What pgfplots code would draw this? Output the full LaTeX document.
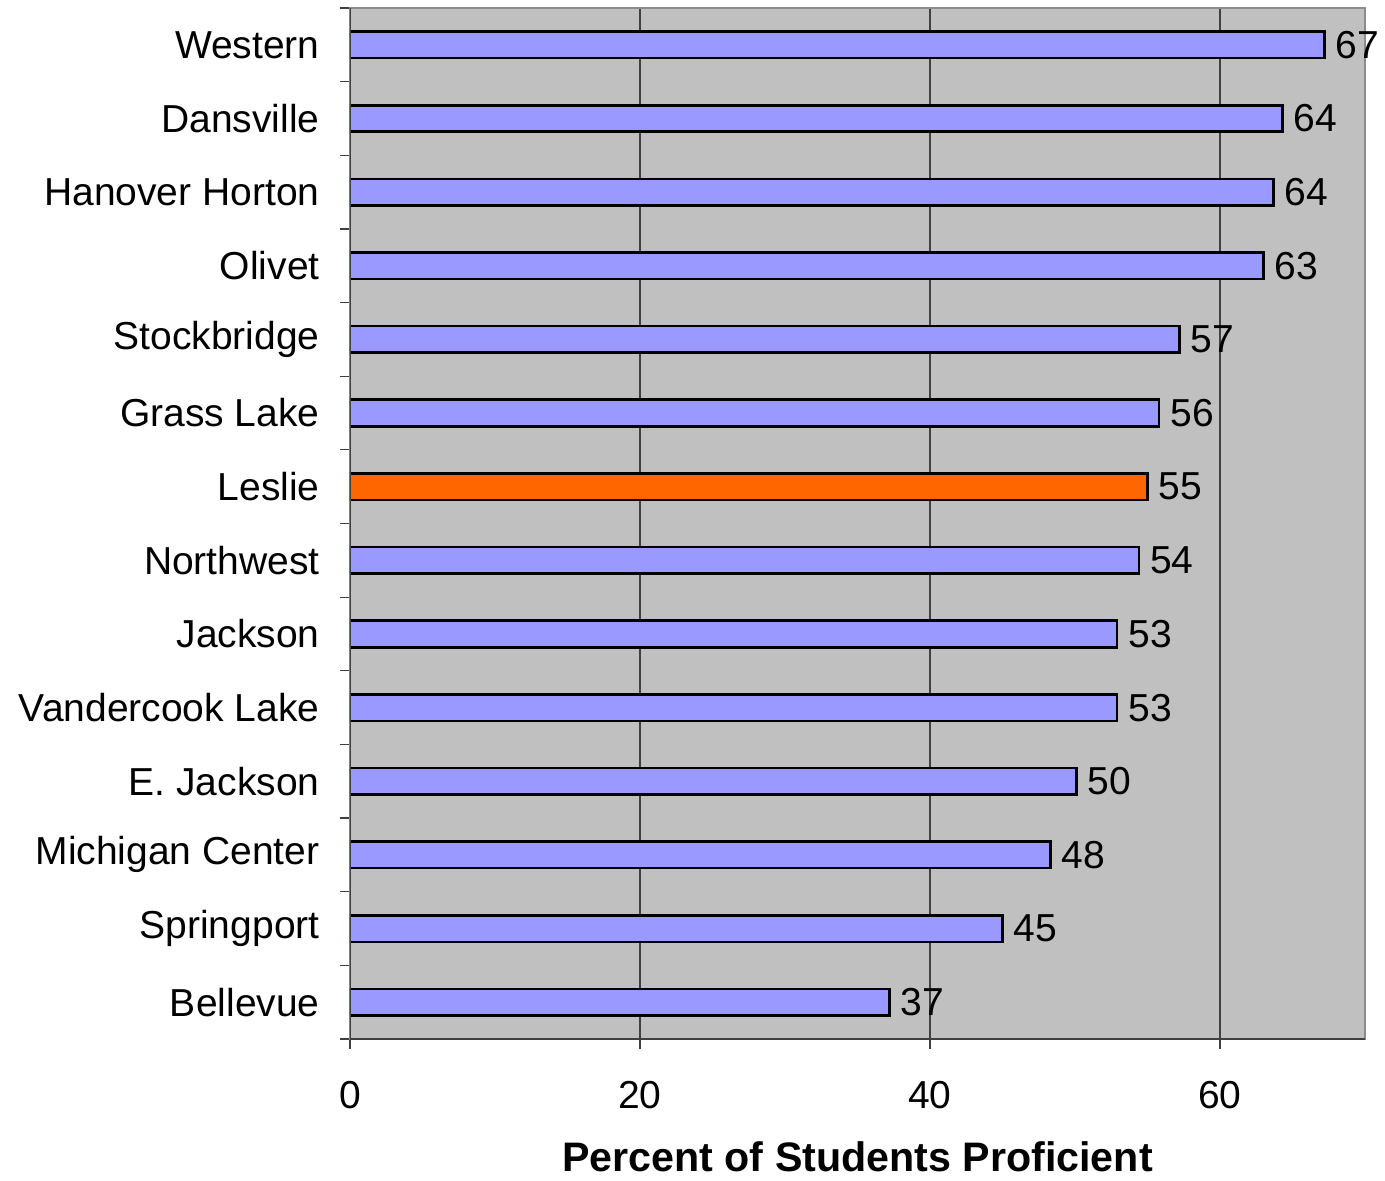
\documentclass[border=0pt]{standalone}
\usepackage{fontspec}
\setmainfont{Liberation Sans}
\usepackage{pgfplots}
\pgfplotsset{compat=1.18}
\definecolor{barblue}{HTML}{9999FF}
\definecolor{barorange}{HTML}{FF6600}
\definecolor{plotgray}{HTML}{C0C0C0}
\definecolor{gridc}{HTML}{404040}
\definecolor{framec}{HTML}{8C8C8C}
\begin{document}
\fontsize{19.5}{23}\selectfont
\begin{tikzpicture}
\useasboundingbox (-175pt,-70.5pt) rectangle (517.5pt,519.5pt);
\begin{axis}[
  at={(0,0)}, anchor=south west,
  scale only axis, width=507.5pt, height=515.5pt,
  xmin=0, xmax=70, ymin=-0.5, ymax=13.5,
  xtick={0,20,40,60},
  ytick={0,...,13},
  yticklabels={Bellevue,Springport,Michigan Center,E. Jackson,Vandercook Lake,Jackson,Northwest,Leslie,Grass Lake,Stockbridge,Olivet,Hanover Horton,Dansville,Western},
  minor ytick={-0.5,0.5,...,13.5},
  xtick pos=bottom, ytick pos=left,
  tick align=outside,
  major tick length=5pt, minor tick length=5pt,
  major y tick style={draw=none},
  minor y tick style={gridc, line width=0.6pt},
  major x tick style={gridc, line width=0.6pt},
  xmajorgrids, major x grid style={gridc, line width=0.6pt},
  axis background/.style={fill=plotgray},
  axis line style={draw=framec, line width=0.8pt},
  /pgf/number format/assume math mode=true,
  yticklabel style={inner sep=0pt, xshift=-10pt, font=\fontsize{19.5}{23}\selectfont},
  xticklabel style={inner sep=0pt, yshift=-16pt, font=\fontsize{19.5}{23}\selectfont},
  xlabel={Percent of Students Proficient},
  xlabel style={at={(axis description cs:0.5,0)}, anchor=center, inner sep=0pt, yshift=-59pt, font=\bfseries\fontsize{20.6}{24}\selectfont},
  xbar, bar width=0.36, bar shift=0pt,
  nodes near coords={\pgfmathprintnumber[fixed,precision=0]{\pgfplotspointmeta}},
  point meta=x,
  nodes near coords style={anchor=west, inner sep=0pt, xshift=5pt, font=\fontsize{19.5}{23}\selectfont, /pgf/number format/assume math mode=true},
]
\addplot[fill=barblue, draw=black, line width=1.3pt] coordinates {
  (37.2,0) (45.0,1) (48.3,2) (50.1,3) (52.9,4) (52.9,5) (54.4,6)
  (55.8,8) (57.2,9) (63.0,10) (63.7,11) (64.3,12) (67.2,13)
};
\addplot[fill=barorange, draw=black, line width=1.3pt] coordinates {
  (55.0,7)
};
\draw[gridc, line width=0.8pt] (axis cs:0,13.5) -- (axis cs:0,-0.5) -- (axis cs:70,-0.5);
\end{axis}
\end{tikzpicture}
\end{document}
